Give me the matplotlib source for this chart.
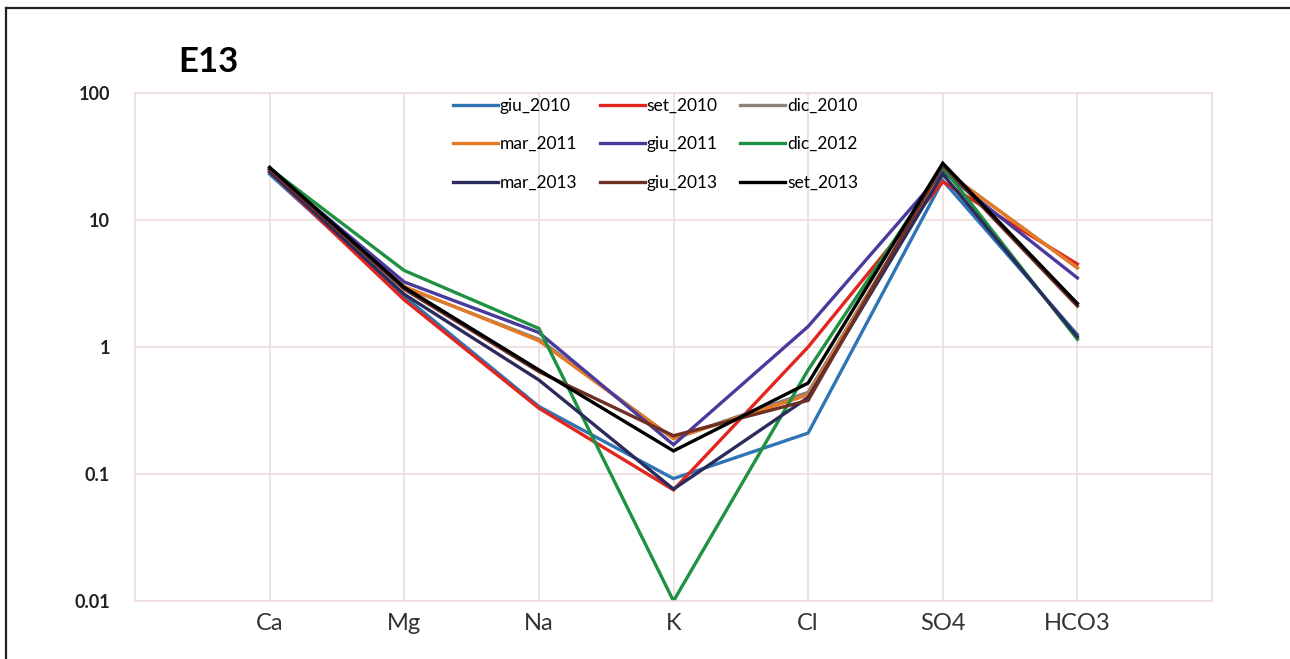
import numpy as np
import matplotlib.pyplot as plt
from matplotlib.lines import Line2D

ions = ['Ca', 'Mg', 'Na', 'K', 'Cl', 'SO4', 'HCO3']

giu_2010 = [23.0, 2.5, 0.34, 0.092, 0.21, 20.5, 1.25]
set_2010 = [24.0, 2.35, 0.33, 0.075, 1.0, 20.0, 4.5]
dic_2010 = [25.0, 2.95, 1.15, 0.19, 0.44, 25.0, 4.2]
mar_2011 = [25.0, 3.0, 1.12, 0.19, 0.42, 25.0, 4.2]
giu_2011 = [25.0, 3.25, 1.3, 0.17, 1.45, 24.0, 3.5]
dic_2012 = [25.5, 4.0, 1.4, 0.01, 0.66, 26.0, 1.15]
mar_2013 = [24.0, 2.6, 0.55, 0.076, 0.40, 23.0, 1.2]
giu_2013 = [25.0, 2.85, 0.64, 0.2, 0.38, 27.0, 2.1]
set_2013 = [26.0, 2.95, 0.66, 0.152, 0.52, 28.0, 2.2]

labels = ['giu_2010', 'set_2010', 'dic_2010', 'mar_2011', 'giu_2011',
          'dic_2012', 'mar_2013', 'giu_2013', 'set_2013']
series = [giu_2010, set_2010, dic_2010, mar_2011, giu_2011,
          dic_2012, mar_2013, giu_2013, set_2013]
colors = ['#2F74B5', '#E0261E', '#8E817C', '#E57A25', '#4A3A9E',
          '#1F9142', '#2B2C5C', '#6E2F25', '#000000']

plt.rcParams['font.family'] = ['Lato', 'DejaVu Sans']

fig = plt.figure(figsize=(12.9, 6.59), dpi=100)
ax = fig.add_axes([135/1290, 58/659, 1077/1290, 508/659])

x = np.arange(len(ions))
lines = []
for vals, lab, c in zip(series, labels, colors):
    ln, = ax.plot(x, vals, color=c, lw=2.4, label=lab, solid_joinstyle='miter')
    lines.append(ln)

ax.set_yscale('log')
ax.set_ylim(0.01, 100)
ax.set_xlim(-1, 7)
ax.set_yticks([0.01, 0.1, 1, 10, 100])
ax.set_yticklabels(['0.01', '0.1', '1', '10', '100'], fontsize=13,
                   fontweight='bold', color='#222222')
ax.minorticks_off()
ax.set_xticks(x)
ax.set_xticklabels(ions, fontsize=17, color='#333333')
ax.tick_params(length=0, pad=9)
ax.tick_params(axis='y', pad=18)
ax.grid(True, color='#ecdcda', lw=1.2)
ax.set_axisbelow(True)
for s in ax.spines.values():
    s.set_color('#ecdcda')
    s.set_linewidth(1.2)

fig.text(178/1290, 1 - 62/659, 'E13', fontsize=25, fontweight='bold',
         va='center', ha='left')

# legend laid out row by row
order = [0, 3, 6, 1, 4, 7, 2, 5, 8]
ax.legend([lines[i] for i in order], [labels[i] for i in order], ncol=3,
          loc='upper left', bbox_to_anchor=(444/1290, 1 - 89/659),
          bbox_transform=fig.transFigure, frameon=False, fontsize=12.5,
          borderpad=0, handlelength=2.6, handletextpad=0.1,
          labelspacing=1.3, columnspacing=1.3)

# outer frame (left and top)
fig.add_artist(Line2D([6/1290, 6/1290], [0, 1 - 8/659], color='#222222',
                      lw=1.6, transform=fig.transFigure))
fig.add_artist(Line2D([6/1290, 1], [1 - 8/659, 1 - 8/659], color='#222222',
                      lw=1.6, transform=fig.transFigure))

fig.savefig('out.png', dpi=100)
